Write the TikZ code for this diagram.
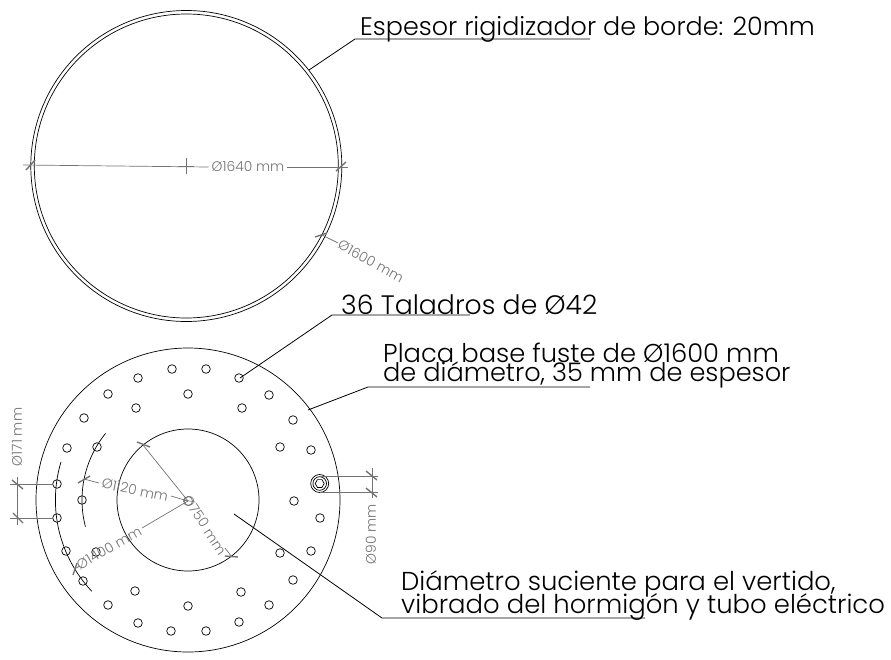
\documentclass[tikz,border=0pt]{standalone}
\usepackage{fontspec}
\setmainfont{Poppins}[UprightFont=* Light]
\usetikzlibrary{calc}
\definecolor{dimgray}{gray}{0.45}
\tikzset{
  part/.style={draw=black,line width=0.7pt,fill=none},
  hole/.style={draw=black,line width=0.7pt},
  leader/.style={draw=black,line width=0.8pt},
  dimline/.style={draw=dimgray,line width=0.7pt},
  tick/.style={draw=dimgray,line width=1.4pt},
  dimtext/.style={text=dimgray,font=\fontsize{13.8}{15}\selectfont,inner sep=0pt},
  bigtext/.style={text=black,inner sep=0pt,anchor=west},
}
\newcommand{\bigsz}[1]{\fontsize{#1}{#1}\selectfont}
\begin{document}
\begin{tikzpicture}[x=1pt,y=-1pt]
\useasboundingbox (0,0) rectangle (891,659);
% top ring
\coordinate (ct) at (186.3,166);
\draw[part] (ct) circle[radius=155.5pt];
\draw[part] (ct) circle[radius=152pt];
\draw[draw=dimgray,line width=0.4pt] (178,166) -- (194,166) (186.3,158) -- (186.3,174);
\node[dimtext] (d1640) at (248,167) {Ø1640 mm};
\coordinate (a1) at (23,165);
\coordinate (a2) at (348,167);
\draw[dimline] (a1) -- ([xshift=-3pt]d1640.west);
\draw[dimline] ([xshift=3pt]d1640.east) -- (a2);
\draw[tick] (26,170) -- (35,160);
\draw[tick] (336,171) -- (346,162);
\node[dimtext,rotate=-29] (d1600) at (371,261) {Ø1600 mm};
\coordinate (b1) at (322,235);
\draw[dimline] (b1) -- (338,243);
\draw[tick] (315,237) -- (327,233);
% leader top
\node[bigtext,font=\bigsz{25.4}] (t1) at (360,29) {Espesor rigidizador de borde: 20mm};
\coordinate (l1a) at (309,70);
\coordinate (l1b) at (355,39);
\coordinate (l1c) at (590,39);
\draw[leader] (l1a) -- (l1b) -- (l1c);
% plate
\coordinate (cb) at (188,500);
\draw[part] (cb) circle[radius=152pt];
\draw[part] (cb) circle[radius=71pt];
\foreach \p in {(172,369),(138,378),(108,394),(188,394),(136,408),(84,418),(67,448),(97,447),(82,500),(57,484),(57,518),(66,551),(96,552),(83,581),(135,591),(108,605),(188,606),(138,623),(171,631),
(206,369),(239,378),(269,395),(242,408),(293,420),(280,447),(311,450),(294,501),(320,518),(311,551),(280,553),(293,580),(241,592),(269,605),(239,622),(206,631)}
  \draw[hole] \p circle[radius=4.3pt];
% special hole
\coordinate (sh) at (319.7,483.5);
\draw[hole] (sh) circle[radius=9pt];
\draw[hole] (sh) circle[radius=6.8pt];
\draw[hole] (sh) ++(4.5,0) -- ++(-2.25,3.9) -- ++(-4.5,0) -- ++(-2.25,-3.9) -- ++(2.25,-3.9) -- ++(4.5,0) -- cycle;
% arcs
\draw[part,domain=136.5:196.7,samples=40] plot ({188+132.6*cos(\x)},{500+132.6*sin(\x)});
\draw[part,domain=165.4:218.9,samples=40] plot ({188+106*cos(\x)},{500+106*sin(\x)});
% Ø171
\draw[dimline] (10,484) -- (53,484) (10,518) -- (53,518) (17,477) -- (17,525);
\draw[tick] (12,480) -- (23,489);
\draw[tick] (13,513) -- (23,523);
\node[dimtext,rotate=90] (d171) at (17,437) {Ø171 mm};
% Ø90
\draw[dimline] (320,476) -- (378,476) (320,492) -- (378,492) (372,468) -- (372,498);
\draw[tick] (366,471) -- (377,480);
\draw[tick] (366,488) -- (377,497);
\node[dimtext,rotate=90] (d90) at (371,534) {Ø90 mm};
% centre dims
\coordinate (cc) at (188,501);
\draw[dimline] (cc) circle[radius=4.5pt];
\node[dimtext,rotate=-12] (d1120) at (135,490) {Ø1120 mm};
\coordinate (e1) at (84,479);
\draw[dimline] (e1) -- (99,483);
\draw[dimline] (171,496) -- (cc);
\draw[tick] (78,483) -- (90,476);
\node[dimtext,rotate=30] (d1400) at (109,548) {Ø1400 mm};
\coordinate (e2) at (74,569);
\draw[dimline] (e2) -- (80,566);
\draw[dimline] (142,528) -- (cc);
\draw[tick] (73,575) -- (77,563);
\node[dimtext,rotate=-57] (d750) at (205,525) {Ø750 mm};
\coordinate (e3) at (143,445);
\coordinate (e4) at (232,557);
\draw[dimline] (e3) -- (cc);
\draw[dimline] (225,548) -- (e4);
\draw[tick] (137,442) -- (150,447);
\draw[tick] (225,556) -- (238,557);
% leaders and labels
\node[bigtext,font=\bigsz{26.7}] (t2) at (341,304.5) {36 Taladros de Ø42};
\coordinate (l2a) at (240,378);
\coordinate (l2b) at (332,315);
\coordinate (l2c) at (470,315);
\draw[leader] (l2a) -- (l2b) -- (l2c);
\node[bigtext,font=\bigsz{25.8}] (t3) at (383,352.5) {Placa base fuste de Ø1600 mm};
\node[bigtext,font=\bigsz{25.6}] (t4) at (383,374.5) {de diámetro, 35 mm de espesor};
\coordinate (l3a) at (308,410);
\coordinate (l3b) at (368,387);
\coordinate (l3c) at (590,387);
\draw[leader] (l3a) -- (l3b) -- (l3c);
\node[bigtext,font=\bigsz{25.9}] (t5) at (401,584) {Diámetro suciente para el vertido,};
\node[bigtext,font=\bigsz{25.9}] (t6) at (401,606.5) {vibrado del hormigón y tubo eléctrico};
\coordinate (l4a) at (234,514);
\coordinate (l4b) at (382,618);
\coordinate (l4c) at (645,618);
\draw[leader] (l4a) -- (l4b) -- (l4c);
\end{tikzpicture}
\end{document}
